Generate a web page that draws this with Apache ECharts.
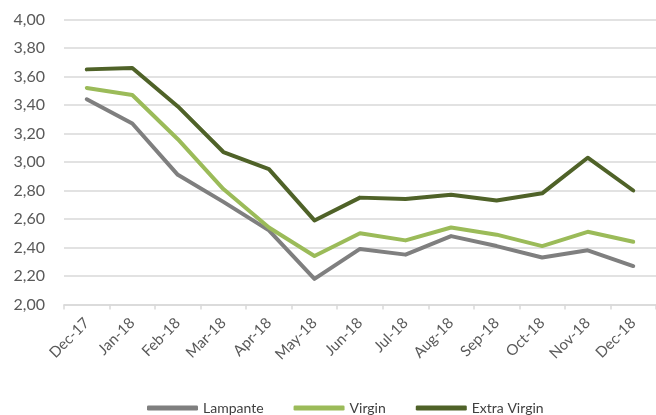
<!DOCTYPE html>
<html>
<head>
<meta charset="utf-8">
<script src="https://cdn.jsdelivr.net/npm/echarts@6/dist/echarts.min.js"></script>
<style>
html,body{margin:0;padding:0;background:#fff;}
#main{width:656px;height:415px;}
</style>
</head>
<body>
<div id="main"></div>
<script>
var months = ['Dec-17','Jan-18','Feb-18','Mar-18','Apr-18','May-18','Jun-18','Jul-18','Aug-18','Sep-18','Oct-18','Nov-18','Dec-18'];
var lampante = [3.44,3.27,2.91,2.72,2.52,2.18,2.39,2.35,2.48,2.41,2.33,2.38,2.27];
var virgin = [3.52,3.47,3.16,2.81,2.54,2.34,2.50,2.45,2.54,2.49,2.41,2.51,2.44];
var extraVirgin = [3.65,3.66,3.39,3.07,2.95,2.59,2.75,2.74,2.77,2.73,2.78,3.03,2.80];

var fontName = 'Lato, "Liberation Sans", sans-serif';
var myChart = echarts.init(document.getElementById('main'));

function mkLine(name, data, color) {
    return {
        name: name,
        type: 'line',
        data: data,
        symbol: 'none',
        lineStyle: { color: color, width: 4, cap: 'round', join: 'round' },
        itemStyle: { color: color }
    };
}

myChart.setOption({
    animation: false,
    textStyle: { fontFamily: fontName },
    grid: { left: 64, right: -7, top: 19.5, bottom: 110.5 },
    legend: {
        top: 396,
        left: 142,
        icon: 'roundRect',
        itemWidth: 51,
        itemHeight: 5,
        itemGap: 30,
        textStyle: { fontSize: 14, color: '#404040', fontFamily: fontName },
        data: ['Lampante', 'Virgin', 'Extra Virgin']
    },
    xAxis: {
        type: 'category',
        data: months,
        boundaryGap: true,
        axisLine: { lineStyle: { color: '#d9d9d9', width: 1.5 } },
        axisTick: { show: true, length: 5, lineStyle: { color: '#d9d9d9', width: 1.5 } },
        axisLabel: { rotate: 45, fontSize: 15, color: '#595959', interval: 0, margin: 16 }
    },
    yAxis: {
        type: 'value',
        min: 2,
        max: 4,
        interval: 0.2,
        axisLine: { show: false },
        axisTick: { show: false },
        splitLine: { lineStyle: { color: '#d9d9d9', width: 1.5 } },
        axisLabel: {
            fontSize: 16,
            color: '#595959',
            margin: 19,
            formatter: function (v) { return v.toFixed(2).replace('.', ','); }
        }
    },
    series: [
        mkLine('Lampante', lampante, '#7f7f7f'),
        mkLine('Virgin', virgin, '#9bbb59'),
        mkLine('Extra Virgin', extraVirgin, '#4f6228')
    ]
});
</script>
</body>
</html>
